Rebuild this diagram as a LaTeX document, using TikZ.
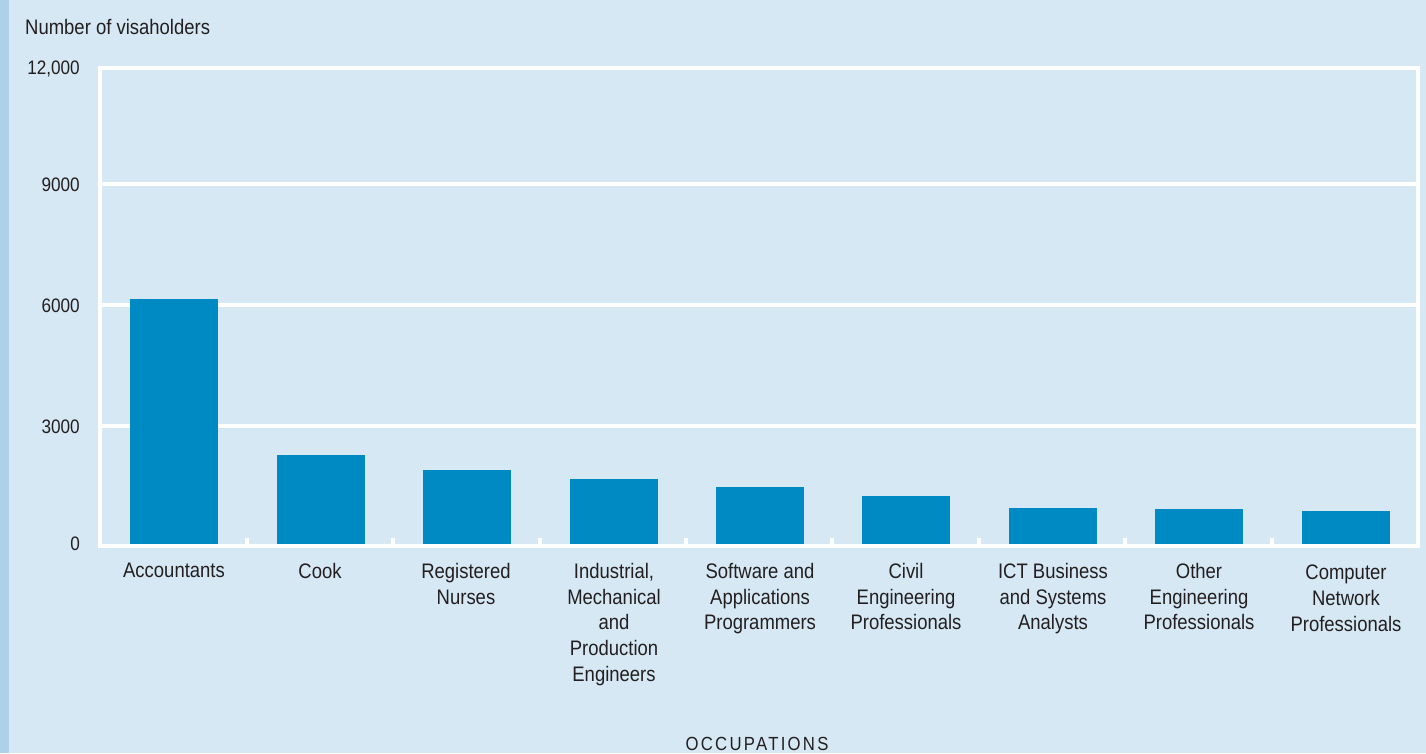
\documentclass[tikz,border=0pt]{standalone}
\usepackage{fontspec}
\setmainfont{Liberation Sans}[FakeStretch=0.88]
\definecolor{bg}{HTML}{D6E8F4}
\definecolor{stripe}{HTML}{AED0E8}
\definecolor{barc}{HTML}{008AC3}
\definecolor{txt}{HTML}{231F20}
\tikzset{
  barbox/.style={fill=barc, draw=none},
  axisln/.style={draw=white, line width=4pt},
  gridln/.style={draw=white, line width=3.5pt},
  tickmk/.style={draw=white, line width=4pt},
  ylab/.style={anchor=base east, inner sep=0pt, text=txt, font=\fontsize{19.5}{23}\selectfont},
  catlab/.style={anchor=north, inner sep=0pt, align=center, text=txt, font=\fontsize{21}{25.7}\selectfont},
}
\begin{document}
\begin{tikzpicture}[x=1pt, y=-1pt]
\useasboundingbox (0,0) rectangle (1426,753);
\fill[bg] (0,0) rectangle (1426,753);
\fill[stripe] (0,0) rectangle (9,753);
% grid lines
\foreach \yy in {184,305,426} {
  \draw[gridln] (100,\yy) -- (1418,\yy);
}
% bars
\foreach \xl/\top/\nm in {130/299/b1, 277/455/b2, 423/470/b3, 570/479/b4, 716/487/b5, 862/496/b6, 1009/508/b7, 1155/509/b8, 1302/511/b9} {
  \path[barbox] (\xl,\top) rectangle ++(88,544-\top);
}
% frame
\draw[axisln] (1418,546) -- (100,546) -- (100,68) -- (1418,68) -- cycle;
% ticks
\foreach \xx in {247,393,540,686,832,979,1125,1272} {
  \draw[tickmk] (\xx,545) -- (\xx,538);
}
% y labels
\node[anchor=base west, inner sep=0pt, text=txt, font=\fontsize{21}{25}\selectfont] (ttl) at (25,34) {Number of visaholders};
\node[ylab] (y12) at (80,74) {12,000};
\node[ylab] (y9) at (80,191) {9000};
\node[ylab] (y6) at (80,312) {6000};
\node[ylab] (y3) at (80,433) {3000};
\node[ylab] (y0) at (80,550) {0};
% category labels
\node[catlab] (c1) at (174,563) {Accountants};
\node[catlab] (c2) at (320,563) {Cook};
\node[catlab] (c3) at (466,563) {Registered\\Nurses};
\node[catlab] (c4) at (614,563) {Industrial,\\Mechanical\\and\\Production\\Engineers};
\node[catlab] (c5) at (760,563) {Software and\\Applications\\Programmers};
\node[catlab] (c6) at (906,563) {Civil\\Engineering\\Professionals};
\node[catlab] (c7) at (1053,563) {ICT Business\\and Systems\\Analysts};
\node[catlab] (c8) at (1199,563) {Other\\Engineering\\Professionals};
\node[catlab] (c9) at (1346,565) {Computer\\Network\\Professionals};
\node[anchor=base, inner sep=0pt, text=txt, font=\fontsize{19}{23}\selectfont\addfontfeature{LetterSpace=12}] (occ) at (757,750) {OCCUPATIONS};
\end{tikzpicture}
\end{document}
